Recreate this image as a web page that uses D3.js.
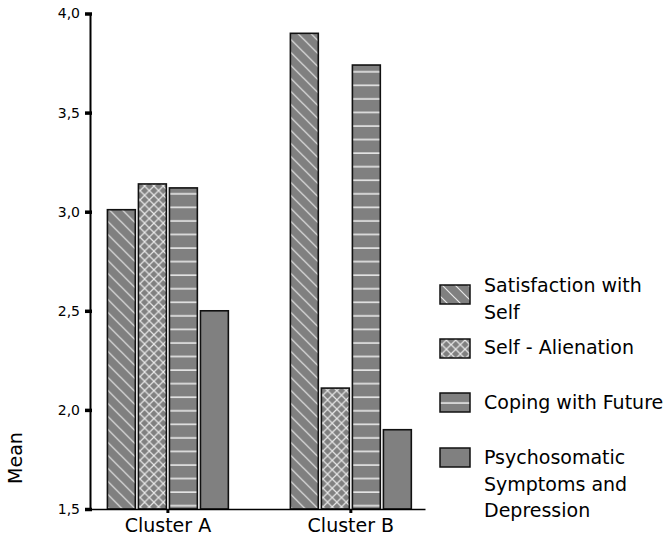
<!DOCTYPE html>
<html><head><meta charset="utf-8">
<script src="https://cdn.jsdelivr.net/npm/d3@7"></script>
<style>body{margin:0;background:#fff} svg{display:block}</style>
</head><body>
<script>
const categories = ["Cluster A", "Cluster B"];
const seriesNames = ["Satisfaction with Self", "Self - Alienation", "Coping with Future", "Psychosomatic Symptoms and Depression"];
const satisfaction = [3.01, 3.90];
const alienation = [3.14, 2.11];
const coping = [3.12, 3.74];
const psychosomatic = [2.50, 1.90];
const yTicks = [1.5, 2.0, 2.5, 3.0, 3.5, 4.0];
const legendLines = [["Satisfaction with", "Self"], ["Self - Alienation"], ["Coping with Future"], ["Psychosomatic", "Symptoms and", "Depression"]];
const patternTypes = ["diag", "cross", "horiz", "solid"];

const seriesValues = [satisfaction, alienation, coping, psychosomatic];
const W = 668, H = 539;
const FONT = "DejaVu Sans, Verdana, sans-serif";

const svg = d3.select("body").append("svg").attr("width", W).attr("height", H);
const defs = svg.append("defs");
const GRAY = "#808080", LINE = "#e8e8e8";

function makePattern(id, type, oy) {
  let p;
  if (type === "diag") {
    const s = 13;
    p = defs.append("pattern").attr("id", id).attr("patternUnits", "userSpaceOnUse")
      .attr("width", s).attr("height", s).attr("y", oy);
    p.append("rect").attr("width", s).attr("height", s).attr("fill", GRAY);
    p.append("path").attr("d", `M-2,-2L${s+2},${s+2}M-2,${s-2}L2,${s+2}M${s-2},-2L${s+2},2`)
      .attr("stroke", LINE).attr("stroke-width", 1.2);
  } else if (type === "cross") {
    const s = 9.3;
    p = defs.append("pattern").attr("id", id).attr("patternUnits", "userSpaceOnUse")
      .attr("width", s).attr("height", s).attr("y", oy);
    p.append("rect").attr("width", s).attr("height", s).attr("fill", GRAY);
    p.append("path").attr("d", `M-1,-1L${s+1},${s+1}M-1,${s+1}L${s+1},-1`)
      .attr("stroke", LINE).attr("stroke-width", 1.2);
  } else if (type === "horiz") {
    const s = 13.56;
    p = defs.append("pattern").attr("id", id).attr("patternUnits", "userSpaceOnUse")
      .attr("width", 20).attr("height", s).attr("y", oy);
    p.append("rect").attr("width", 20).attr("height", s).attr("fill", GRAY);
    p.append("rect").attr("x", 0).attr("y", 3.2).attr("width", 20).attr("height", 1.6).attr("fill", LINE);
  } else {
    return GRAY;
  }
  return `url(#${id})`;
}
const barFills = patternTypes.map((t, i) => makePattern("bar" + i, t, 0));

const y = d3.scaleLinear().domain([1.5, 4.0]).range([509, 13.5]);
const x0 = d3.scaleBand().domain(categories).range([90, 425]).paddingInner(0.339).paddingOuter(0.085).align(0.56);
const x1 = d3.scaleBand().domain(d3.range(seriesNames.length)).range([0, x0.bandwidth()]).paddingInner(0.1).paddingOuter(0);

// bars
const groups = svg.append("g").selectAll("g").data(categories).join("g")
  .attr("transform", d => `translate(${x0(d)},0)`);
groups.selectAll("rect")
  .data((c, ci) => seriesValues.map((vals, si) => ({si, v: vals[ci]})))
  .join("rect")
  .attr("x", d => x1(d.si))
  .attr("y", d => y(d.v))
  .attr("width", x1.bandwidth())
  .attr("height", d => y(1.5) - y(d.v))
  .attr("fill", d => barFills[d.si])
  .attr("stroke", "#111").attr("stroke-width", 1.6);

// y axis
const fmt = d => d3.format(".1f")(d).replace(".", ",");
const yAxis = svg.append("g").attr("transform", "translate(90,0)")
  .call(d3.axisLeft(y).tickValues(yTicks).tickFormat(fmt).tickSize(5).tickSizeOuter(0).tickPadding(6));
yAxis.select(".domain").attr("stroke", "#000").attr("stroke-width", 2);
yAxis.selectAll(".tick line").attr("stroke", "#000").attr("stroke-width", 3.5).attr("x1", 2);
yAxis.selectAll(".tick text").attr("font-family", FONT).attr("font-size", 14).attr("fill", "#000").attr("x", -10);

// x axis
const xAxis = svg.append("g").attr("transform", "translate(0,509)")
  .call(d3.axisBottom(x0).tickSize(4).tickSizeOuter(0).tickPadding(8));
xAxis.select(".domain").attr("stroke", "#000").attr("stroke-width", 1.5);
xAxis.selectAll(".tick line").attr("stroke", "#000").attr("stroke-width", 3);
xAxis.selectAll(".tick text").attr("font-family", FONT).attr("font-size", 19).attr("fill", "#000")
  .attr("dy", "0.71em").attr("y", 10);

// y label
svg.append("text").attr("transform", "translate(22,458) rotate(-90)")
  .attr("text-anchor", "middle").attr("font-family", FONT).attr("font-size", 19).text("Mean");

// legend
const legendTops = [285, 339, 393, 448];
const legendBaselines = [292, 353.5, 409, 464];
const lg = svg.append("g");
patternTypes.forEach((t, i) => {
  const top = legendTops[i];
  let oy = 0;
  if (t === "horiz") oy = top + 6;
  if (t === "diag") oy = top;
  if (t === "cross") oy = top + 1;
  const fill = makePattern("leg" + i, t, oy);
  lg.append("rect").attr("x", 440).attr("y", top).attr("width", 30).attr("height", 19)
    .attr("fill", fill).attr("stroke", "#111").attr("stroke-width", 1.5);
  const tx = lg.append("text").attr("font-family", FONT).attr("font-size", 19).attr("fill", "#000");
  legendLines[i].forEach((ln, j) => {
    tx.append("tspan").attr("x", 484).attr("y", legendBaselines[i] + j * 26.7).text(ln);
  });
});
</script>
</body></html>
